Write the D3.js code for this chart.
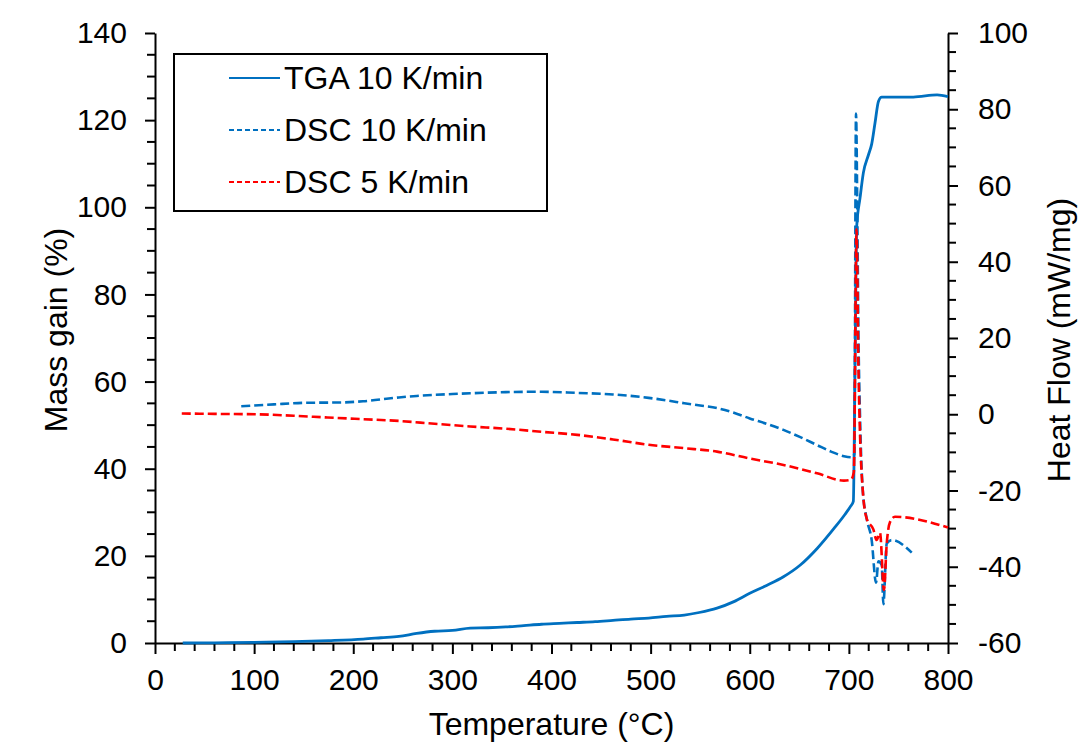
<!DOCTYPE html>
<html><head><meta charset="utf-8">
<script src="https://cdn.jsdelivr.net/npm/d3@7"></script>
<style>
html,body{margin:0;padding:0;background:#fff;}
text{font-family:"Liberation Sans",Arial,sans-serif;fill:#000;}
</style></head>
<body>
<svg id="chart" width="1082" height="749"></svg>
<script>
// ---- data ----
const tgaTemp = [28,60,100,140,175,210,228,246,264,282,300,318,336,354,372,390,408,426,444,462,480,498,516,534,549,567,584,600,617,634,651,668,685,696,701.5,704.5,706.2,707.9,711.3,714.6,719.7,723,726.4,729.8,733.1,750,765,789,800];
const tgaMass = [0,0.05,0.15,0.3,0.55,0.9,1.2,1.5,2.2,2.7,2.9,3.4,3.5,3.7,4.0,4.3,4.5,4.7,4.9,5.2,5.5,5.7,6.1,6.4,7.0,8.0,9.5,11.4,13.2,15.2,17.9,21.7,26.3,29.5,31.3,32.5,63.6,95.6,102.2,107.9,112,114.5,119.4,124.3,125.3,125.3,125.3,125.8,125.4];

const dsc10Temp = [87,120,152,188,210,228,246,264,282,300,318,354,390,426,462,498,517,534,550,567,584,600,617,634,651,668,682,695,703,705.5,707.2,708.6,709.6,711.3,714,718,723,727.4,729.8,733.1,734.8,738.2,743.2,763.4];
const dsc10Heat = [2.1,2.6,3.0,3.1,3.4,3.9,4.4,4.8,5.1,5.3,5.5,5.8,5.9,5.6,5.2,4.3,3.6,2.9,2.3,1.6,0.4,-1.1,-2.5,-4.1,-6.0,-8.1,-9.8,-11.0,-11.3,-10.5,78.9,50.4,22.3,-1.1,-19.9,-27.4,-33,-44.2,-38.6,-39.5,-49.8,-33.9,-33,-36.3];

const dsc5Temp = [27,60,102,140,174,210,246,282,318,354,390,426,462,498,534,567,600,634,668,695,702,705,707.7,709.6,711.3,714,718,724.7,728,731.4,735.4,738.2,741.5,746.5,800];
const dsc5Heat = [0.2,0.1,0.0,-0.4,-0.85,-1.3,-1.75,-2.5,-3.2,-3.8,-4.6,-5.4,-6.6,-8.0,-8.9,-9.8,-11.6,-13.3,-15.5,-17.4,-17.2,-15.2,48.5,12.9,-5.8,-19.9,-27.4,-30.2,-33,-31.1,-46.1,-33.9,-28.3,-26.9,-29.7];

const xTicks = [0,100,200,300,400,500,600,700,800];
const leftTicks = [0,20,40,60,80,100,120,140];
const rightTicks = [-60,-40,-20,0,20,40,60,80,100];
const seriesNames = ["TGA 10 K/min","DSC 10 K/min","DSC 5 K/min"];

// ---- layout ----
const svg = d3.select("#chart");
const L = 155, R = 948, T = 33, B = 643;
const blue = "#0070C0", red = "#FF0000";

const x = d3.scaleLinear().domain([0,800]).range([L,R]);
const yL = d3.scaleLinear().domain([0,140]).range([B,T]);
const yR = d3.scaleLinear().domain([-60,100]).range([B,T]);

// minor ticks (drawn directly from the scales)
const xMinor = d3.range(0,801,20).filter(v => v % 100 !== 0);
const lMinor = d3.range(0,141,5).filter(v => v % 20 !== 0);
const rMinor = d3.range(-60,101,5).filter(v => v % 20 !== 0);
const mg = svg.append("g");
xMinor.forEach(v => mg.append("line").attr("x1",x(v)).attr("x2",x(v)).attr("y1",B).attr("y2",B+8)
  .attr("stroke","#000").attr("stroke-width",2));
lMinor.forEach(v => mg.append("line").attr("x1",L-8).attr("x2",L).attr("y1",yL(v)).attr("y2",yL(v))
  .attr("stroke","#000").attr("stroke-width",2));
rMinor.forEach(v => mg.append("line").attr("x1",R).attr("x2",R+8).attr("y1",yR(v)).attr("y2",yR(v))
  .attr("stroke","#000").attr("stroke-width",2));

const fmt = d => String(d);
function styleAxis(gg){
  gg.select(".domain").attr("stroke","#000").attr("stroke-width",2);
  gg.selectAll(".tick line").attr("stroke","#000").attr("stroke-width",2);
  gg.selectAll(".tick text").style("font-size","30px").style("font-family",'"Liberation Sans",Arial,sans-serif').attr("fill","#000");
}
const gx = svg.append("g").attr("transform",`translate(0,${B})`)
  .call(d3.axisBottom(x).tickValues(xTicks).tickSize(11).tickSizeOuter(0).tickPadding(15).tickFormat(fmt));
styleAxis(gx);
const gl = svg.append("g").attr("transform",`translate(${L},0)`)
  .call(d3.axisLeft(yL).tickValues(leftTicks).tickSize(10).tickSizeOuter(0).tickPadding(18).tickFormat(fmt));
styleAxis(gl);
const gr = svg.append("g").attr("transform",`translate(${R},0)`)
  .call(d3.axisRight(yR).tickValues(rightTicks).tickSize(10).tickSizeOuter(0).tickPadding(20).tickFormat(fmt));
styleAxis(gr);

// titles
svg.append("text").attr("x",(L+R)/2).attr("y",735).attr("text-anchor","middle").style("font-size","32px").text("Temperature (°C)");
svg.append("text").attr("transform","translate(67,330) rotate(-90)").attr("text-anchor","middle").style("font-size","32px").text("Mass gain (%)");
svg.append("text").attr("transform","translate(1070,340) rotate(-90)").attr("text-anchor","middle").style("font-size","32px").text("Heat Flow (mW/mg)");

// lines
const tga = tgaTemp.map((t,i)=>[t,tgaMass[i]]);
const d10 = dsc10Temp.map((t,i)=>[t,dsc10Heat[i]]);
const d5 = dsc5Temp.map((t,i)=>[t,dsc5Heat[i]]);
const lineL = d3.line().x(d=>x(d[0])).y(d=>yL(d[1])).curve(d3.curveMonotoneX);
const lineR = d3.line().x(d=>x(d[0])).y(d=>yR(d[1])).curve(d3.curveMonotoneX);

svg.append("path").datum(tga).attr("d",lineL).attr("fill","none").attr("stroke",blue).attr("stroke-width",2.8);
svg.append("path").datum(d10).attr("d",lineR).attr("fill","none").attr("stroke",blue).attr("stroke-width",2.6).attr("stroke-dasharray","9,4");
svg.append("path").datum(d5).attr("d",lineR).attr("fill","none").attr("stroke",red).attr("stroke-width",2.6).attr("stroke-dasharray","9,4");

// legend
const lg = svg.append("g");
lg.append("rect").attr("x",174).attr("y",54).attr("width",373).attr("height",157).attr("fill","#fff").attr("stroke","#000").attr("stroke-width",2);
const lcolors = [blue, blue, red];
const ldash = [null, "5,3", "5,3"];
seriesNames.forEach((n,i)=>{
  const yy = 78 + i*52;
  const ln = lg.append("line").attr("x1",229).attr("x2",280).attr("y1",yy).attr("y2",yy).attr("stroke",lcolors[i]).attr("stroke-width",2);
  if (ldash[i]) ln.attr("stroke-dasharray",ldash[i]);
  lg.append("text").attr("x",284).attr("y",yy+11).style("font-size","32px").text(n);
});
</script>
</body></html>
